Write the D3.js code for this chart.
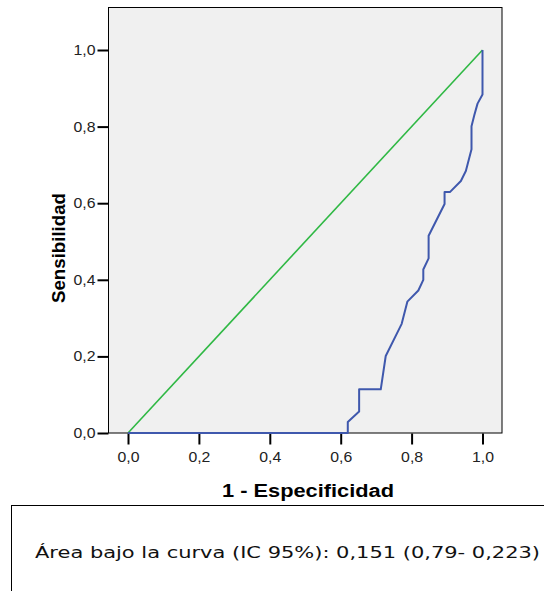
<!DOCTYPE html>
<html>
<head>
<meta charset="utf-8">
<script src="https://cdn.jsdelivr.net/npm/d3@7"></script>
<style>
  body { margin: 0; background: #fff; }
  svg { display: block; }
</style>
</head>
<body>
<div id="chart"></div>
<script>
var chart_width = 544, chart_height = 591;

// ROC curve points (1 - especificidad, sensibilidad)
var fpr = [0, 0.62, 0.62, 0.652, 0.652, 0.713, 0.727, 0.772, 0.788, 0.819, 0.833, 0.833,
    0.848, 0.848, 0.893, 0.893, 0.908, 0.939, 0.953, 0.969, 0.969, 0.977, 0.986, 1.0, 1.0];
var tpr = [0, 0, 0.029, 0.056, 0.114, 0.114, 0.201, 0.285, 0.343, 0.372, 0.40, 0.427,
    0.456, 0.515, 0.598, 0.629, 0.629, 0.658, 0.684, 0.741, 0.801, 0.83, 0.86, 0.884, 1.0];
var refLine = [0, 1];
var tickValues = [0, 0.2, 0.4, 0.6, 0.8, 1.0];
var xTitle = "1 - Especificidad";
var yTitle = "Sensibilidad";
var note = "Área bajo la curva (IC 95%): 0,151 (0,79- 0,223)";

var fmt = function (d) { return d3.format(".1f")(d).replace(".", ","); };

var x = d3.scaleLinear().domain([0, 1]).range([128, 482.5]);
var y = d3.scaleLinear().domain([0, 1]).range([433, 50]);

var svg = d3.select("#chart")
    .append("svg")
    .attr("width", chart_width)
    .attr("height", chart_height);

// plot background
svg.append("rect")
    .attr("x", 108.5)
    .attr("y", 7.5)
    .attr("width", 502 - 108.5)
    .attr("height", 433 - 7.5)
    .attr("fill", "#f0f0f0")
    .attr("stroke", "#000")
    .attr("stroke-width", 1);

// axes
var xAxis = svg.append("g")
    .attr("transform", "translate(0,433.5)")
    .call(d3.axisBottom(x).tickValues(tickValues).tickFormat(fmt).tickSizeInner(11).tickSizeOuter(0).tickPadding(8));
var yAxis = svg.append("g")
    .attr("transform", "translate(108.5,0)")
    .call(d3.axisLeft(y).tickValues(tickValues).tickFormat(fmt).tickSizeInner(11).tickSizeOuter(0).tickPadding(2));

[xAxis, yAxis].forEach(function (a) {
    a.select(".domain").remove();
    a.selectAll(".tick line").attr("stroke", "#000").attr("stroke-width", 2);
    a.selectAll(".tick text")
        .attr("fill", "#222")
        .attr("font-family", "Liberation Sans, Arial, sans-serif")
        .attr("font-size", 14)
        .attr("textLength", 22)
        .attr("lengthAdjust", "spacingAndGlyphs");
});

// reference diagonal
svg.append("line")
    .attr("x1", x(refLine[0])).attr("y1", y(refLine[0]))
    .attr("x2", x(refLine[1])).attr("y2", y(refLine[1]))
    .attr("stroke", "#2fb844")
    .attr("stroke-width", 1.6);

// ROC curve
var pts = fpr.map(function (d, i) { return [d, tpr[i]]; });
var line = d3.line()
    .x(function (d) { return x(d[0]); })
    .y(function (d) { return y(d[1]); });

svg.append("path")
    .datum(pts)
    .attr("d", line)
    .attr("fill", "none")
    .attr("stroke", "#3f58ad")
    .attr("stroke-width", 2)
    .attr("stroke-linejoin", "round");

// axis titles
svg.append("text")
    .attr("x", 308)
    .attr("y", 497)
    .attr("text-anchor", "middle")
    .attr("font-family", "Liberation Sans, Arial, sans-serif")
    .attr("font-weight", "bold")
    .attr("font-size", 18)
    .attr("textLength", 172)
    .attr("lengthAdjust", "spacingAndGlyphs")
    .text(xTitle);

svg.append("text")
    .attr("transform", "translate(65,248) rotate(-90)")
    .attr("text-anchor", "middle")
    .attr("font-family", "Liberation Sans, Arial, sans-serif")
    .attr("font-weight", "bold")
    .attr("font-size", 18)
    .attr("textLength", 110)
    .attr("lengthAdjust", "spacingAndGlyphs")
    .text(yTitle);

// annotation box
svg.append("rect")
    .attr("x", 11.5)
    .attr("y", 505.5)
    .attr("width", 560)
    .attr("height", 120)
    .attr("fill", "#fff")
    .attr("stroke", "#000")
    .attr("stroke-width", 1);

svg.append("text")
    .attr("x", 35)
    .attr("y", 558)
    .attr("font-family", "DejaVu Sans, Verdana, sans-serif")
    .attr("font-size", 15)
    .attr("fill", "#111")
    .attr("textLength", 505)
    .attr("lengthAdjust", "spacingAndGlyphs")
    .text(note);
</script>
</body>
</html>
